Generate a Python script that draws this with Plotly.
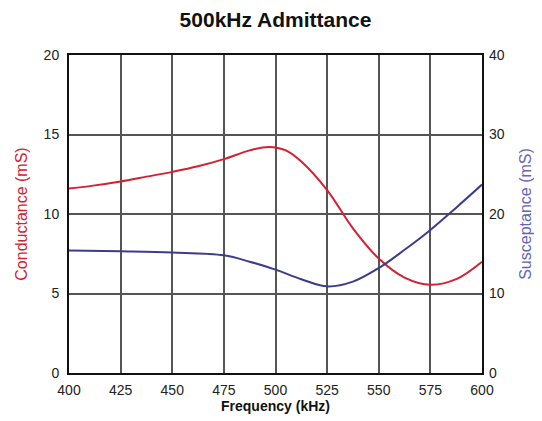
import plotly.graph_objects as go

freq_g = [400, 412.5, 425, 437.5, 450, 462.5, 475, 487.5, 497, 505, 512.5, 525, 537.5, 550, 562.5, 575, 587.5, 600]
conductance = [11.6, 11.8, 12.05, 12.35, 12.65, 13.0, 13.45, 14.0, 14.22, 14.0, 13.3, 11.5, 9.1, 7.2, 6.0, 5.55, 5.9, 7.0]

freq_b = [400, 425, 450, 475, 487.5, 500, 512.5, 525, 537.5, 550, 562.5, 575, 587.5, 600]
susceptance = [15.4, 15.3, 15.15, 14.8, 14.0, 13.0, 11.8, 10.9, 11.5, 13.2, 15.5, 18.0, 20.8, 23.7]

x_ticks = [400, 425, 450, 475, 500, 525, 550, 575, 600]
g_ticks = [0, 5, 10, 15, 20]
b_ticks = [0, 10, 20, 30, 40]

RED = "#d42030"
BLUE = "#3c3c8c"
BLUE_TXT = "#6464b4"
GRID = "#555555"
FONT = "Liberation Sans, Arial, sans-serif"

fig = go.Figure()
fig.add_trace(go.Scatter(x=freq_g, y=conductance, mode="lines",
                         line=dict(color=RED, width=2, shape="spline", smoothing=1.0),
                         name="Conductance", yaxis="y"))
fig.add_trace(go.Scatter(x=freq_b, y=susceptance, mode="lines",
                         line=dict(color=BLUE, width=2, shape="spline", smoothing=1.0),
                         name="Susceptance", yaxis="y2"))

fig.update_layout(
    width=542, height=421,
    margin=dict(l=58, r=68, t=47, b=56),
    paper_bgcolor="white", plot_bgcolor="white",
    showlegend=False,
    font=dict(family=FONT, size=14, color="#222222"),
    title=dict(text="<b>500kHz Admittance</b>", x=0.5, xref="paper", xanchor="center",
               y=1 - 12 / 421, yref="container", yanchor="middle",
               font=dict(size=21, color="#111111")),
    xaxis=dict(range=[400, 600], tickvals=x_ticks, ticktext=[str(v) for v in x_ticks],
               showgrid=True, gridcolor=GRID, gridwidth=1.5,
               showline=True, linecolor="#111111", linewidth=2, mirror=True,
               ticks="", zeroline=False, ticklabelstandoff=3,
               title=dict(text="<b>Frequency (kHz)</b>", standoff=2,
                          font=dict(size=14, color="#111111"))),
    yaxis=dict(range=[0, 20], tickvals=g_ticks,
               showgrid=True, gridcolor=GRID, gridwidth=1.5,
               showline=True, linecolor="#111111", linewidth=2, mirror=True,
               ticks="", zeroline=False, ticklabelstandoff=5,
               title=dict(text="Conductance (mS)", standoff=12,
                          font=dict(size=16, color=RED))),
    yaxis2=dict(range=[0, 40], tickvals=b_ticks, overlaying="y", side="right",
                showgrid=False, zeroline=False, ticks="", ticklabelstandoff=6,
                title=dict(text="Susceptance (mS)", standoff=16,
                           font=dict(size=16, color=BLUE_TXT))),
)

fig.write_html("out.html")
